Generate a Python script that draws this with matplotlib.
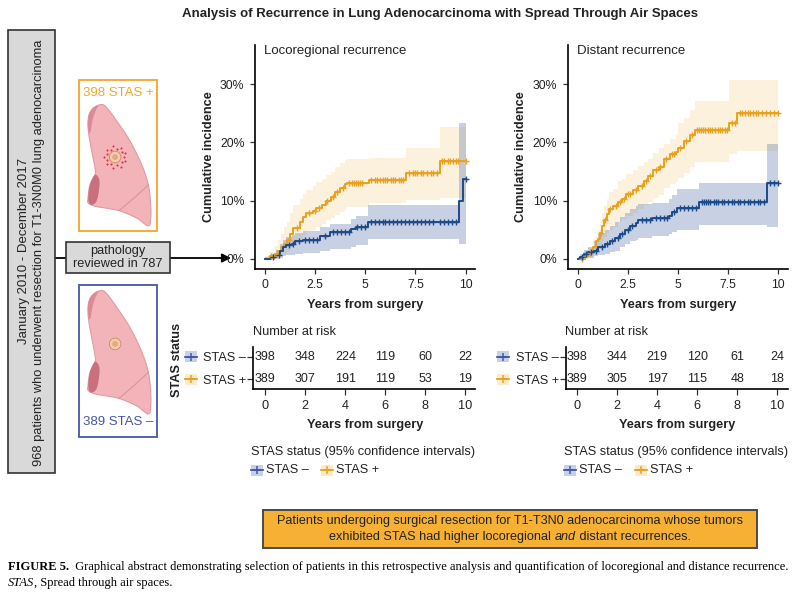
import numpy as np
import matplotlib
matplotlib.use('Agg')
import matplotlib.pyplot as plt
from matplotlib.patches import Rectangle, Polygon, Circle

plt.rcParams['font.family'] = ['Liberation Sans', 'DejaVu Sans']

# ---------------- DATA ----------------
title = "Analysis of Recurrence in Lung Adenocarcinoma with Spread Through Air Spaces"
panel_titles = ["Locoregional recurrence", "Distant recurrence"]
groups = ["STAS \u2013", "STAS +"]
x_ticks = [0, 2.5, 5, 7.5, 10]
y_ticks = [0, 10, 20, 30]
y_tick_labels = ["0%", "10%", "20%", "30%"]
risk_times = [0, 2, 4, 6, 8, 10]

# Locoregional, STAS+ (orange)
lr_pos_t = [0, 0.25, 0.5, 0.65, 0.8, 0.95, 1.1, 1.25, 1.4, 1.75, 1.9, 2.05, 2.4, 2.55, 2.85, 3.05, 3.3, 3.5, 3.75, 4.0, 4.1, 5.2, 7.05, 8.7, 10]
lr_pos_est = [0, 0.4, 0.9, 1.4, 2.0, 2.6, 3.3, 4.3, 5.3, 6.3, 7.2, 7.9, 8.2, 8.8, 9.2, 9.9, 10.6, 11.4, 12.2, 12.8, 13.1, 13.5, 14.7, 16.8, 16.8]
lr_pos_hi = [0.5, 1.2, 2.2, 3.2, 4.2, 5.4, 6.4, 7.8, 9.2, 10.2, 11.2, 11.8, 12.5, 13.2, 13.8, 14.4, 15.0, 15.7, 16.4, 16.9, 17.2, 17.3, 19.0, 22.7, 22.7]
lr_pos_lo = [0, 0, 0.1, 0.3, 0.6, 0.9, 1.4, 2.0, 2.7, 3.4, 4.1, 4.7, 5.0, 5.5, 6.0, 6.6, 7.1, 7.6, 8.1, 8.6, 8.9, 9.6, 10.1, 10.4, 10.4]
lr_pos_cens = [0.3, 0.45, 0.6, 1.2, 1.6, 2.2, 2.5, 2.7, 3.1, 3.4, 3.6, 3.9, 4.2, 4.35, 4.45, 4.55, 4.65, 4.75,
               4.85, 5.3, 5.5, 5.6, 5.75, 5.9, 6.0, 6.1, 6.3, 6.4, 6.5, 6.7, 6.8, 6.9, 7.2, 7.4, 7.5, 7.6, 7.8,
               7.9, 8.1, 8.3, 8.4, 8.6, 8.8, 8.9, 9.1, 9.2, 9.35, 9.5, 9.6, 10.0]

# Locoregional, STAS- (navy)
lr_neg_t = [0, 0.3, 0.55, 0.75, 0.9, 1.05, 1.35, 1.5, 1.9, 2.75, 3.25, 4.3, 4.55, 5.15, 9.67, 9.85, 10]
lr_neg_est = [0, 0.3, 0.6, 1.3, 2.0, 2.4, 2.6, 3.0, 3.3, 4.0, 4.6, 5.1, 5.5, 6.4, 10.0, 13.8, 13.8]
lr_neg_hi = [0.3, 0.9, 1.5, 2.5, 3.3, 3.8, 4.1, 4.5, 4.8, 5.5, 6.0, 6.9, 7.4, 9.3, 23.3, 23.3, 23.3]
lr_neg_lo = [0, 0, 0, 0.2, 0.4, 0.6, 0.7, 0.8, 1.0, 1.4, 1.7, 2.1, 2.4, 3.4, 2.6, 2.6, 2.6]
lr_neg_cens = [0.4, 0.7, 1.2, 1.4, 1.7, 2.0, 2.2, 2.4, 2.6, 3.0, 3.4, 3.6, 3.8, 4.0, 4.2, 4.6, 4.8, 5.0, 5.3,
               5.5, 5.7, 5.9, 6.0, 6.2, 6.4, 6.6, 6.8, 7.0, 7.2, 7.4, 7.6, 7.8, 8.0, 8.2, 8.4, 8.7, 8.9, 9.1,
               9.3, 9.5, 10.0]

# Distant, STAS+ (orange)
dr_pos_t = [0, 0.25, 0.5, 0.75, 0.9, 1.0, 1.1, 1.2, 1.3, 1.45, 1.55, 1.75, 2.0, 2.2, 2.4, 2.75, 3.0, 3.3, 3.5, 3.75, 4.05, 4.3, 4.6, 4.9, 5.0, 5.3, 5.6, 5.85, 7.55, 7.95, 10]
dr_pos_est = [0, 0.5, 1.0, 2.0, 3.0, 3.4, 4.5, 5.7, 6.6, 7.7, 8.6, 9.0, 9.7, 10.3, 11.2, 11.8, 12.6, 13.4, 14.3, 15.2, 15.8, 17.1, 18.0, 18.3, 19.1, 20.3, 21.3, 22.2, 23.4, 25.0, 25.0]
dr_pos_hi = [0.5, 1.2, 1.8, 3.2, 4.0, 5.0, 6.5, 7.8, 9.0, 10.3, 11.4, 12.0, 13.3, 13.8, 14.5, 15.2, 16.0, 16.6, 17.2, 18.2, 19.0, 19.8, 20.6, 21.2, 23.3, 24.2, 25.5, 27.1, 30.8, 30.8, 30.8]
dr_pos_lo = [0, 0, 0.2, 0.6, 1.2, 1.5, 2.2, 3.0, 3.7, 4.5, 5.0, 5.5, 6.3, 6.8, 7.4, 7.9, 8.5, 9.2, 9.8, 10.5, 11.0, 12.1, 12.8, 13.2, 13.9, 14.8, 15.7, 16.7, 18.0, 18.6, 18.6]
dr_pos_cens = [0.2, 0.35, 0.6, 1.15, 1.35, 1.6, 1.9, 2.1, 2.3, 2.5, 2.6, 2.9, 3.2, 3.4, 3.6, 3.9, 4.1, 4.4, 4.7,
               4.8, 5.1, 5.4, 5.7, 5.95, 6.05, 6.15, 6.25, 6.35, 6.5, 6.6, 6.7, 6.85, 7.0, 7.1, 7.2, 7.35,
               7.45, 7.7, 7.85, 8.1, 8.2, 8.35, 8.5, 8.6, 8.75, 8.9, 9.0, 9.2, 9.4, 9.6, 9.8, 10.0]

# Distant, STAS- (navy)
dr_neg_t = [0, 0.1, 0.3, 0.5, 0.8, 1.0, 1.35, 1.6, 1.85, 2.1, 2.35, 2.6, 2.9, 3.0, 3.7, 4.55, 4.7, 4.95, 6.05, 9.45, 10]
dr_neg_est = [0, 0.3, 0.8, 1.1, 1.4, 2.0, 2.6, 3.1, 3.5, 4.3, 5.0, 5.7, 6.2, 6.6, 7.0, 7.4, 8.1, 8.8, 9.7, 13.0, 13.0]
dr_neg_hi = [0.3, 0.9, 1.6, 2.0, 3.0, 4.2, 5.0, 5.7, 6.3, 7.2, 7.9, 8.6, 9.0, 9.4, 9.6, 10.3, 11.0, 12.0, 13.1, 19.7, 19.7]
dr_neg_lo = [0, 0, 0.1, 0.2, 0.4, 0.6, 0.9, 1.1, 1.4, 2.0, 2.5, 3.0, 3.3, 3.6, 3.9, 4.2, 4.6, 5.0, 5.8, 5.5, 5.5]
dr_neg_cens = [0.2, 0.4, 0.65, 0.9, 1.2, 1.45, 1.7, 2.0, 2.2, 2.5, 2.7, 3.2, 3.4, 3.6, 3.9, 4.1, 4.3, 4.45, 4.8,
               5.1, 5.3, 5.5, 5.7, 5.9, 6.2, 6.3, 6.4, 6.5, 6.6, 6.8, 6.9, 7.0, 7.2, 7.3, 7.5, 7.7, 7.8, 8.0,
               8.1, 8.3, 8.5, 8.6, 8.8, 9.0, 9.1, 9.3, 9.6, 9.8, 10.0]

# Number at risk
lr_risk_neg = [398, 348, 224, 119, 60, 22]
lr_risk_pos = [389, 307, 191, 119, 53, 19]
dr_risk_neg = [398, 344, 219, 120, 61, 24]
dr_risk_pos = [389, 305, 197, 115, 48, 18]

n_stas_pos = 398
n_stas_neg = 389
n_reviewed = 787
n_total = 968

# ---------------- STYLE ----------------
ORANGE = '#E9A11F'
NAVY = '#1D4A8A'
ORANGE_BAND = '#F2B441'
NAVY_BAND = '#3B5C9E'
BOX_ORANGE = '#F4A62A'
BOX_BLUE = '#4457A6'
TXT = '#222222'
FS = 9.2

W, H = 800, 593
fig = plt.figure(figsize=(8, 5.93), dpi=100)


def ax_px(x0, y0, x1, y1, **kw):
    return fig.add_axes([x0 / W, 1 - y1 / H, (x1 - x0) / W, (y1 - y0) / H], **kw)


ov = ax_px(0, 0, W, H)
ov.set_xlim(0, W)
ov.set_ylim(H, 0)
ov.axis('off')


def step_val(t, est, x):
    t = np.asarray(t)
    est = np.asarray(est)
    idx = np.searchsorted(t, np.asarray(x), side='right') - 1
    return est[np.clip(idx, 0, len(est) - 1)]


def draw_curve(ax, t, est, lo, hi, cens, color, band, alpha):
    ax.fill_between(t, lo, hi, step='post', color=band, alpha=alpha, lw=0, zorder=1)
    ax.step(t, est, where='post', color=color, lw=1.4, zorder=3)
    ax.plot(cens, step_val(t, est, cens), '+', color=color, ms=4, mew=1.0, zorder=4)


def style_main(ax, xlim, ptitle):
    ax.set_xlim(*xlim)
    ax.set_ylim(-1.75, 36.75)
    ax.set_xticks(x_ticks)
    ax.set_xticklabels(['0', '2.5', '5', '7.5', '10'])
    ax.set_yticks(y_ticks)
    ax.set_yticklabels(y_tick_labels)
    for s in ['top', 'right']:
        ax.spines[s].set_visible(False)
    for s in ['left', 'bottom']:
        ax.spines[s].set_linewidth(1.2)
        ax.spines[s].set_color('black')
    ax.tick_params(length=3.5, width=0.9, color='#333333', labelsize=8.8, labelcolor=TXT, pad=4)
    ax.set_xlabel('Years from surgery', fontsize=FS, fontweight='bold', va='center', color=TXT)
    ax.xaxis.set_label_coords(0.5, -0.161)
    ax.set_ylabel('Cumulative incidence', fontsize=FS, fontweight='bold', va='center', color=TXT)
    ax.yaxis.set_label_coords(-0.211, 0.5)
    ax.text(0.042, 0.973, ptitle, transform=ax.transAxes, fontsize=9.5, va='center', ha='left', color=TXT)
    ax.patch.set_alpha(0)


# Main plots
ax1 = ax_px(255, 45, 475, 269)
draw_curve(ax1, lr_pos_t, lr_pos_est, lr_pos_lo, lr_pos_hi, lr_pos_cens, ORANGE, ORANGE_BAND, 0.18)
draw_curve(ax1, lr_neg_t, lr_neg_est, lr_neg_lo, lr_neg_hi, lr_neg_cens, NAVY, NAVY_BAND, 0.28)
style_main(ax1, (-0.5, 10.47), panel_titles[0])

ax2 = ax_px(567.7, 45, 788, 269)
draw_curve(ax2, dr_pos_t, dr_pos_est, dr_pos_lo, dr_pos_hi, dr_pos_cens, ORANGE, ORANGE_BAND, 0.18)
draw_curve(ax2, dr_neg_t, dr_neg_est, dr_neg_lo, dr_neg_hi, dr_neg_cens, NAVY, NAVY_BAND, 0.28)
style_main(ax2, (-0.53, 10.5), panel_titles[1])


def risk_table(box, xlim, neg, pos):
    ax = ax_px(*box)
    ax.set_xlim(*xlim)
    ax.set_ylim(0.57, 2.43)
    ax.set_xticks(risk_times)
    ax.set_yticks([2, 1])
    ax.set_yticklabels(groups)
    for s in ['top', 'right']:
        ax.spines[s].set_visible(False)
    for s in ['left', 'bottom']:
        ax.spines[s].set_linewidth(1.2)
        ax.spines[s].set_color('black')
    ax.tick_params(axis='x', length=4.5, width=0.9, color='#333333', labelsize=FS, labelcolor=TXT, pad=3.5)
    ax.tick_params(axis='y', length=4, width=0.9, color='#333333', labelsize=FS, labelcolor=TXT, pad=1)
    for x, a, b in zip(risk_times, neg, pos):
        ax.text(x, 2, str(a), ha='center', va='center', fontsize=9, color=TXT)
        ax.text(x, 1, str(b), ha='center', va='center', fontsize=9, color=TXT)
    ax.patch.set_alpha(0)
    return ax


risk_table((252.7, 347, 475, 389), (-0.63, 10.48), lr_risk_neg, lr_risk_pos)
risk_table((566, 347, 788, 389), (-0.565, 10.535), dr_risk_neg, dr_risk_pos)


def key(x, y, color, bandcol):
    ov.add_patch(Rectangle((x, y - 5.5), 12, 11, facecolor=bandcol, edgecolor='none', zorder=2))
    ov.plot([x, x + 12], [y, y], color=color, lw=1.3, zorder=3)
    ov.plot([x + 6], [y], '+', color=color, ms=6, mew=1.1, zorder=4)


KEY_BLUE_BG = '#C8D0E6'
KEY_OR_BG = '#FCEBCB'

for (nx, kx, lx, k1, t1, k2, t2) in [(253, 185, 365, 251, 266, 321, 336),
                                      (565, 497, 677, 564, 579, 635, 650)]:
    ov.text(nx, 332, 'Number at risk', fontsize=FS, va='center', ha='left', color=TXT)
    key(kx, 356.7, BOX_BLUE, KEY_BLUE_BG)
    key(kx, 379.3, ORANGE, KEY_OR_BG)
    ov.text(lx, 425, 'Years from surgery', fontsize=FS, fontweight='bold', ha='center', va='center', color=TXT)
    ov.text(k1, 452, 'STAS status (95% confidence intervals)', fontsize=FS, ha='left', va='center', color=TXT)
    key(k1, 470, BOX_BLUE, KEY_BLUE_BG)
    ov.text(t1, 470, groups[0], fontsize=FS, ha='left', va='center', color=TXT)
    key(k2, 470, ORANGE, KEY_OR_BG)
    ov.text(t2, 470, groups[1], fontsize=FS, ha='left', va='center', color=TXT)

ov.text(177, 360, 'STAS status', rotation=90, fontsize=FS, fontweight='bold', ha='center', va='center', color=TXT)

# Title
ov.text(440, 14, title, fontsize=9.5, fontweight='bold', ha='center', va='center', color=TXT)

# Left gray box
ov.add_patch(Rectangle((8, 30), 47, 443, facecolor='#D9D9D9', edgecolor='#333333', lw=1.2, zorder=2))
ov.text(24.5, 251, 'January 2010 - December 2017', rotation=90, fontsize=9.5, ha='center', va='center', color=TXT, zorder=3)
ov.text(39.5, 253, f'{n_total} patients who underwent resection for T1-3N0M0 lung adenocarcinoma', rotation=90,
        fontsize=9.3, ha='center', va='center', color=TXT, zorder=3)

# Arrow and pathology box
ov.annotate('', xy=(231, 258), xytext=(55, 258),
            arrowprops=dict(arrowstyle='-|>', color='black', lw=1.3, mutation_scale=13, shrinkA=0, shrinkB=0),
            zorder=1)
ov.add_patch(Rectangle((66, 242), 104, 31, facecolor='#D9D9D9', edgecolor='#333333', lw=1.2, zorder=4))
ov.text(118, 257.5, f'pathology\nreviewed in {n_reviewed}', fontsize=9.2, ha='center', va='center',
        linespacing=1.05, color=TXT, zorder=5)

# Group boxes
ov.add_patch(Rectangle((79, 80), 78, 151, facecolor='none', edgecolor=BOX_ORANGE, lw=1.3, zorder=2))
ov.text(118, 93, f'{n_stas_pos} STAS +', fontsize=9.5, ha='center', va='center', color=BOX_ORANGE, zorder=3)
ov.add_patch(Rectangle((79, 285), 78, 152, facecolor='none', edgecolor=BOX_BLUE, lw=1.3, zorder=2))
ov.text(118, 422, f'{n_stas_neg} STAS \u2013', fontsize=9.5, ha='center', va='center', color=BOX_BLUE, zorder=3)


def smooth_closed(pts, n=10):
    pts = np.array(pts, dtype=float)
    N = len(pts)
    out = []
    for i in range(N):
        p0, p1, p2, p3 = pts[i - 1], pts[i], pts[(i + 1) % N], pts[(i + 2) % N]
        for t in np.linspace(0, 1, n, endpoint=False):
            t2, t3 = t * t, t * t * t
            out.append(0.5 * ((2 * p1) + (-p0 + p2) * t + (2 * p0 - 5 * p1 + 4 * p2 - p3) * t2
                              + (-p0 + 3 * p1 - 3 * p2 + p3) * t3))
    return np.array(out)


# lung illustration outline (normalised drawing coordinates)
LUNG = [(0.163, 0.002), (0.27, 0.008), (0.456, 0.132), (0.667, 0.298), (0.852, 0.493), (0.957, 0.659),
        (0.995, 0.824), (0.995, 0.934), (0.957, 1.0), (0.773, 0.934), (0.508, 0.876), (0.27, 0.851),
        (0.111, 0.837), (0.005, 0.81), (0.0, 0.769), (0.032, 0.659), (0.111, 0.576), (0.111, 0.521),
        (0.059, 0.38), (0.005, 0.215), (0.005, 0.107), (0.059, 0.039)]
NOTCH = [(0.111, 0.576), (0.18, 0.62), (0.17, 0.72), (0.13, 0.80), (0.05, 0.825), (0.005, 0.78),
         (0.032, 0.659)]
APEX = [(0.005, 0.107), (0.059, 0.039), (0.163, 0.002), (0.12, 0.05), (0.07, 0.13), (0.04, 0.22),
        (0.008, 0.215)]
FISSURE = [(0.96, 0.66), (0.75, 0.76), (0.5, 0.87)]


def draw_lung(x0, y0, w, h, stas):
    def m(pts):
        return np.array([(x0 + u * w, y0 + v * h) for u, v in pts])
    outline = smooth_closed(m(LUNG))
    ov.add_patch(Polygon(outline, closed=True, facecolor='#F2B4B9', edgecolor='#E09AA3', lw=0.8, zorder=2))
    ov.add_patch(Polygon(smooth_closed(m(NOTCH)), closed=True, facecolor='#C9707D', edgecolor='none', zorder=3))
    ov.add_patch(Polygon(smooth_closed(m(APEX)), closed=True, facecolor='#DB8A95', edgecolor='none', zorder=3))
    f = m(FISSURE)
    ov.plot(f[:, 0], f[:, 1], color='#D9939B', lw=0.8, zorder=3)
    cx, cy = x0 + 0.43 * w, y0 + 0.43 * h
    ov.add_patch(Circle((cx, cy), 5.8, facecolor='#F4CDA8', edgecolor='#C48A6A', lw=0.6, zorder=4))
    ov.add_patch(Circle((cx, cy), 2.9, facecolor='#E4A887', edgecolor='none', zorder=5))
    if stas:
        ang = np.linspace(0, 2 * np.pi, 18, endpoint=False)
        rad = np.where(np.arange(18) % 2 == 0, 8.5, 11.0)
        ov.scatter(cx + rad * np.cos(ang), cy + rad * np.sin(ang), s=2.2, color='#D8303C', zorder=5, lw=0)


draw_lung(88, 105, 63, 121, True)
draw_lung(88, 291, 63, 123, False)

# Bottom summary box
ov.add_patch(Rectangle((263, 510), 494, 38, facecolor='#F6B034', edgecolor='#4A4A4A', lw=1.4, zorder=2))

renderer = fig.canvas.get_renderer()


def text_pieces(y, pieces, xstart=None, xcenter=None, **kw):
    objs = []
    widths = []
    for s, style in pieces:
        t = ov.text(0, y, s, va='center', ha='left', **style, **kw)
        bb = t.get_window_extent(renderer)
        objs.append(t)
        widths.append(bb.width)
    total = sum(widths)
    x = xstart if xstart is not None else xcenter - total / 2
    for t, wdt in zip(objs, widths):
        t.set_x(x)
        x += wdt
    return total


text_pieces(521, [('Patients undergoing surgical resection for T1-T3N0 adenocarcinoma whose tumors', {})],
            xcenter=510, fontsize=9.1, color=TXT, zorder=3)
text_pieces(537, [('exhibited STAS had higher locoregional ', {}), ('and', {'fontstyle': 'italic'}),
                  (' distant recurrences.', {})], xcenter=510, fontsize=9.1, color=TXT, zorder=3)

# Caption
serif = ['Liberation Serif', 'DejaVu Serif']
text_pieces(567, [('FIGURE 5.', {'fontweight': 'bold'}),
                  ('  Graphical abstract demonstrating selection of patients in this retrospective analysis '
                   'and quantification of locoregional and distance recurrence.', {})],
            xstart=8, fontsize=9.02, family=serif, color='black')
text_pieces(583, [('STAS', {'fontstyle': 'italic'}), (', Spread through air spaces.', {})],
            xstart=8, fontsize=9.02, family=serif, color='black')

fig.savefig('out.png', dpi=100)
